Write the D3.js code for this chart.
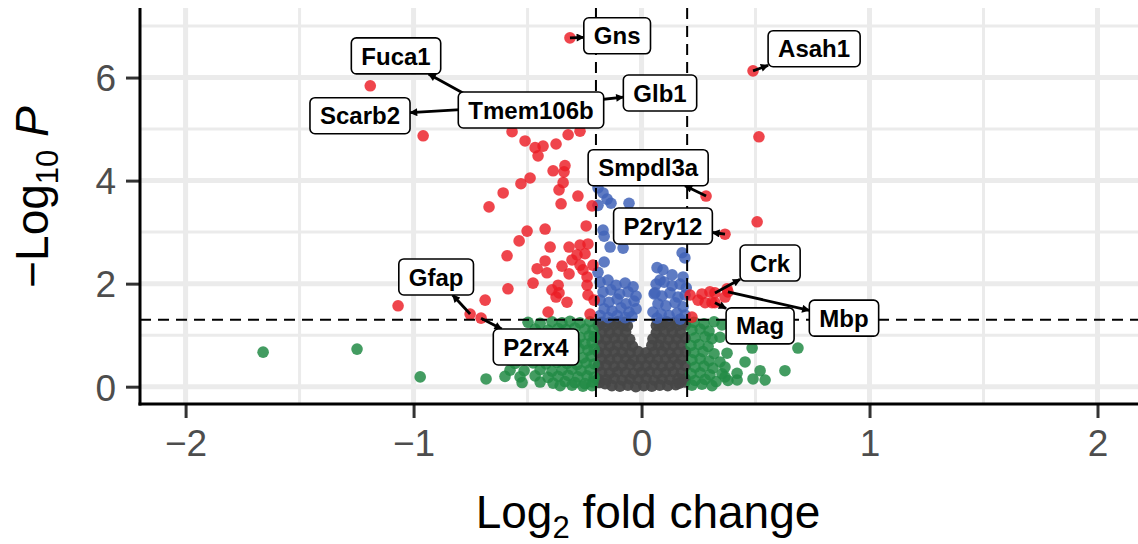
<!DOCTYPE html>
<html><head><meta charset="utf-8">
<script src="https://cdn.jsdelivr.net/npm/d3@7"></script>
<style>
html,body{margin:0;padding:0;background:#fff;}
svg{display:block;font-family:"Liberation Sans",Arial,Helvetica,sans-serif;}
</style></head><body>
<svg id="chart" width="1138" height="544"></svg>
<script>
// ---------------- data ----------------
const xTicks = [-2, -1, 0, 1, 2];
const yTicks = [0, 2, 4, 6];
const xMinor = [-1.5, -0.5, 0.5, 1.5];
const yMinor = [1, 3, 5, 7];
const xDomain = [-2.2, 2.2];
const yDomain = [-0.336, 7.35];
const fcCutoff = 0.2;
const pCutoff = 0.05;

// not significant (grey)
const nsPoints = [
 [-0.13,0.02],[-0.095,0.01],[-0.06,0.03],[-0.025,0.0],[0.01,0.02],[0.045,0.01],[0.08,0.03],[0.115,0.02],[0.15,0.04],
 [-0.185,0.08],[-0.16,0.06],[0.165,0.07],[0.19,0.09],
 [-0.19,0.15],[-0.155,0.14],[-0.12,0.16],[-0.085,0.13],[-0.05,0.15],[-0.015,0.14],[0.02,0.16],[0.055,0.13],[0.09,0.15],[0.125,0.14],[0.16,0.16],[0.192,0.15],
 [-0.175,0.28],[-0.14,0.27],[-0.105,0.29],[-0.07,0.28],[-0.035,0.26],[0.0,0.28],[0.035,0.29],[0.07,0.27],[0.105,0.28],[0.14,0.29],[0.175,0.27],
 [-0.19,0.41],[-0.155,0.42],[-0.12,0.40],[-0.085,0.41],[-0.05,0.43],[-0.015,0.40],[0.02,0.41],[0.055,0.42],[0.09,0.40],[0.125,0.41],[0.16,0.43],[0.193,0.41],
 [-0.175,0.54],[-0.14,0.53],[-0.105,0.55],[-0.07,0.54],[-0.035,0.52],[0.0,0.54],[0.035,0.55],[0.07,0.53],[0.105,0.54],[0.14,0.55],[0.175,0.53],
 [-0.19,0.67],[-0.155,0.66],[-0.12,0.68],[-0.085,0.67],[-0.05,0.66],[-0.015,0.68],[0.02,0.66],[0.055,0.67],[0.09,0.68],[0.125,0.66],[0.16,0.67],[0.193,0.68],
 [-0.175,0.80],[-0.14,0.79],[-0.105,0.81],[-0.07,0.80],[-0.04,0.79],[0.045,0.80],[0.075,0.81],[0.105,0.79],[0.14,0.80],[0.175,0.81],
 [-0.19,0.93],[-0.155,0.92],[-0.12,0.94],[-0.085,0.93],[-0.052,0.92],[0.05,0.93],[0.085,0.94],[0.12,0.92],[0.155,0.93],[0.192,0.94],
 [-0.175,1.06],[-0.14,1.05],[-0.105,1.07],[-0.07,1.06],[0.065,1.05],[0.1,1.07],[0.135,1.06],[0.17,1.05],
 [-0.19,1.19],[-0.155,1.18],[-0.12,1.20],[-0.085,1.19],[-0.062,1.18],[0.065,1.19],[0.09,1.20],[0.125,1.18],[0.16,1.19],[0.193,1.20],
 [-0.175,1.25],[-0.14,1.24],[-0.105,1.26],[-0.075,1.25],[0.075,1.24],[0.11,1.26],[0.145,1.25],[0.18,1.24]
];

// log2 fold change only (green)
const fcPoints = [
 [-0.498,1.25],[-0.445,1.23],[-0.393,1.26],[-0.349,1.24],[-0.314,1.27],[-0.270,1.24],[-0.226,1.26],
 [-0.467,1.12],[-0.410,1.10],[-0.366,1.13],[-0.331,1.11],[-0.292,1.14],[-0.248,1.12],[-0.213,1.10],
 [-0.511,0.98],[-0.436,0.99],[-0.388,0.97],[-0.349,1.00],[-0.309,0.98],[-0.270,0.96],[-0.230,0.99],[-0.208,0.97],
 [-0.489,0.85],[-0.419,0.86],[-0.375,0.84],[-0.331,0.87],[-0.287,0.85],[-0.248,0.83],[-0.217,0.86],
 [-0.533,0.72],[-0.458,0.70],[-0.401,0.73],[-0.357,0.71],[-0.314,0.72],[-0.274,0.74],[-0.235,0.71],[-0.208,0.73],
 [-0.498,0.58],[-0.432,0.59],[-0.379,0.57],[-0.336,0.60],[-0.296,0.58],[-0.257,0.56],[-0.221,0.59],
 [-0.555,0.45],[-0.476,0.46],[-0.419,0.44],[-0.371,0.47],[-0.327,0.45],[-0.283,0.43],[-0.243,0.46],[-0.208,0.44],
 [-0.577,0.32],[-0.515,0.31],[-0.445,0.33],[-0.393,0.30],[-0.349,0.32],[-0.305,0.34],[-0.265,0.31],[-0.226,0.33],
 [-0.599,0.20],[-0.533,0.19],[-0.467,0.21],[-0.410,0.18],[-0.366,0.20],[-0.322,0.22],[-0.279,0.19],[-0.239,0.21],[-0.208,0.18],
 [-0.524,0.08],[-0.445,0.09],[-0.388,0.07],[-0.336,0.10],[-0.292,0.08],[-0.248,0.06],[-0.213,0.09],
 [-0.357,0.02],[-0.305,0.03],[-0.257,0.01],[-0.217,0.02],
 [-1.660,0.67],[-1.248,0.73],[-0.971,0.19],[-0.682,0.15],
 [0.230,1.25],[0.274,1.22],[0.318,1.26],[0.353,1.20],
 [0.221,1.10],[0.257,1.12],[0.296,1.08],
 [0.235,0.95],[0.279,0.97],[0.309,0.93],[0.344,0.96],[0.440,1.00],
 [0.217,0.80],[0.252,0.82],[0.292,0.78],
 [0.230,0.66],[0.270,0.68],[0.318,0.64],[0.375,0.65],[0.485,0.75],[0.686,0.75],
 [0.221,0.52],[0.257,0.54],[0.296,0.50],[0.344,0.48],[0.454,0.48],
 [0.235,0.38],[0.274,0.40],[0.313,0.36],[0.366,0.38],
 [0.217,0.25],[0.257,0.27],[0.300,0.23],[0.353,0.25],[0.419,0.26],[0.520,0.31],[0.629,0.31],
 [0.235,0.12],[0.279,0.14],[0.327,0.10],[0.379,0.12],[0.366,0.19],[0.419,0.13],[0.489,0.15],[0.542,0.13],
 [0.221,0.03],[0.265,0.05],[0.309,0.02]
];

// p-value only (blue)
const pPoints = [
 [-0.191,3.86],[-0.169,3.76],[-0.151,3.64],[-0.134,3.56],[-0.191,3.52],[-0.055,3.56],[-0.169,3.04],[-0.164,2.92],[-0.138,2.71],[-0.081,2.69],[-0.191,2.22],[-0.164,2.42],
 [-0.182,2.03],[-0.147,2.07],[-0.112,1.97],[-0.072,2.01],[-0.037,1.94],
 [-0.169,1.84],[-0.134,1.88],[-0.096,1.80],[-0.059,1.84],[-0.024,1.76],
 [-0.182,1.68],[-0.143,1.64],[-0.107,1.70],[-0.068,1.61],[-0.033,1.66],
 [-0.164,1.51],[-0.129,1.47],[-0.090,1.53],[-0.055,1.45],[-0.024,1.51],
 [-0.182,1.38],[-0.147,1.34],[-0.107,1.38],[-0.072,1.34],[-0.042,1.36],
 [0.178,2.60],[0.190,2.50],[0.068,2.31],[0.094,2.27],[0.134,2.17],[0.182,2.13],[0.081,2.07],[0.059,1.82],
 [0.064,1.99],[0.099,2.03],[0.134,1.96],[0.169,1.99],[0.196,1.92],
 [0.055,1.80],[0.090,1.76],[0.125,1.82],[0.160,1.74],[0.191,1.78],
 [0.072,1.61],[0.107,1.57],[0.147,1.63],[0.182,1.55],
 [0.050,1.45],[0.086,1.41],[0.121,1.38],[0.156,1.43],[0.191,1.39],
 [0.068,1.33],[0.169,1.31]
];

// p-value and log2 fold change (red)
const bothPoints = [
 [-1.190,5.84],[-0.958,4.87],[-1.068,1.57],[-0.686,1.68],[-0.669,3.49],[-0.607,3.76],[-0.590,2.54],[-0.586,1.90],[-0.537,2.83],
 [-0.568,4.95],[-0.511,4.77],[-0.467,4.64],[-0.432,4.67],[-0.454,4.48],[-0.375,4.71],[-0.322,4.89],[-0.270,4.96],
 [-0.388,4.19],[-0.336,4.29],[-0.340,4.17],[-0.489,4.05],[-0.529,3.94],[-0.344,3.96],[-0.362,3.82],[-0.279,3.70],[-0.353,3.55],[-0.217,3.51],
 [-0.502,3.02],[-0.423,3.06],[-0.243,3.12],[-0.401,2.71],[-0.318,2.71],[-0.270,2.75],[-0.235,2.77],[-0.283,2.56],[-0.248,2.58],
 [-0.423,2.44],[-0.349,2.34],[-0.270,2.36],[-0.213,2.36],[-0.458,2.29],[-0.415,2.21],[-0.318,2.19],[-0.239,2.13],[-0.305,2.46],[-0.257,2.27],
 [-0.476,2.01],[-0.366,1.97],[-0.393,1.88],[-0.362,1.82],[-0.375,1.74],[-0.327,1.64],[-0.239,1.97],[-0.235,1.78],[-0.208,1.68],[-0.410,1.45],[-0.226,1.41],
 [0.213,1.78],[0.265,1.80],[0.300,1.84],[0.366,1.74],[0.375,1.90],[0.248,1.68],[0.279,1.63],[0.309,1.63],[0.221,1.35],[0.507,3.20],[0.515,4.85]
];

// labelled genes (also red)
const genes    = ["Gns","Asah1","Fuca1","Scarb2","Tmem106b","Glb1","Smpdl3a","P2ry12","Crk","Mbp","Mag","Gfap","P2rx4"];
const geneFC   = [-0.314, 0.489, -0.730, -0.664, -0.445, -0.226, 0.283, 0.366, 0.322, 0.379, 0.322, -0.752, -0.704];
const geneLogP = [6.77, 6.13, 5.57, 5.41, 5.33, 5.55, 3.70, 2.96, 1.82, 1.84, 1.63, 1.41, 1.33];
// repelled label centres (data units)
const labelFC   = [-0.107, 0.757, -1.077, -1.235, -0.485, 0.081, 0.029, 0.094, 0.564, 0.888, 0.520, -0.901, -0.463];
const labelLogP = [6.81, 6.56, 6.42, 5.26, 5.37, 5.70, 4.25, 3.12, 2.40, 1.33, 1.18, 2.13, 0.77];

// ---------------- drawing ----------------
const svg = d3.select('#chart');
const L = 140, T = 8, B = 404, R = 1138;
const x = d3.scaleLinear().domain(xDomain).range([140, 1143.1]);
const y = d3.scaleLinear().domain(yDomain).range([B, T]);

const grid = svg.append('g').attr('stroke', '#ebebeb');
grid.selectAll('.vmin').data(xMinor).join('line')
  .attr('x1', d => x(d)).attr('x2', d => x(d)).attr('y1', T).attr('y2', B).attr('stroke-width', 3);
grid.selectAll('.hmin').data(yMinor).join('line')
  .attr('y1', d => y(d)).attr('y2', d => y(d)).attr('x1', L).attr('x2', R).attr('stroke-width', 3);
grid.selectAll('.vmaj').data(xTicks).join('line')
  .attr('x1', d => x(d)).attr('x2', d => x(d)).attr('y1', T).attr('y2', B).attr('stroke-width', 5);
grid.selectAll('.hmaj').data(yTicks).join('line')
  .attr('y1', d => y(d)).attr('y2', d => y(d)).attr('x1', L).attr('x2', R).attr('stroke-width', 5);

const R0 = 5.8;
function drawPts(data, fill, op) {
  svg.append('g').selectAll('circle').data(data).join('circle')
    .attr('cx', d => x(d[0])).attr('cy', d => y(d[1])).attr('r', R0)
    .attr('fill', fill).attr('fill-opacity', op);
}
drawPts(nsPoints, '#474747', 0.95);
drawPts(fcPoints, '#228b45', 0.85);
drawPts(pPoints, '#4264b8', 0.85);
drawPts(bothPoints, '#ec1c24', 0.82);
const geneData = genes.map((g, i) => ({g, fc: geneFC[i], p: geneLogP[i], lx: labelFC[i], ly: labelLogP[i]}));
drawPts(geneData.map(d => [d.fc, d.p]), '#ec1c24', 0.82);

// threshold lines
const thr = svg.append('g').attr('stroke', '#000').attr('stroke-width', 2).attr('stroke-dasharray', '11,7');
thr.selectAll('.v').data([-fcCutoff, fcCutoff]).join('line')
  .attr('x1', d => x(d)).attr('x2', d => x(d)).attr('y1', T).attr('y2', B);
thr.append('line').attr('x1', L).attr('x2', R)
  .attr('y1', y(-Math.log10(pCutoff))).attr('y2', y(-Math.log10(pCutoff)));

// labels
const defs = svg.append('defs');
defs.append('marker').attr('id', 'arr').attr('viewBox', '0 0 10 10')
  .attr('refX', 9).attr('refY', 5).attr('markerWidth', 9).attr('markerHeight', 8)
  .attr('markerUnits', 'userSpaceOnUse').attr('orient', 'auto')
  .append('path').attr('d', 'M0,0 L10,5 L0,10 Z').attr('fill', '#000');

const lblG = svg.append('g');
const segG = lblG.append('g');
const boxG = lblG.append('g');
const FS = 24, PADX = 10, BH = 36;
geneData.forEach(d => {
  const t = boxG.append('text').attr('font-size', FS).attr('font-weight', 'bold').text(d.g);
  d.w = t.node().getComputedTextLength() + 2 * PADX;
  t.remove();
});
geneData.forEach(d => {
  const cx = x(d.lx), cy = y(d.ly);
  const px = x(d.fc), py = y(d.p);
  const dx = px - cx, dy = py - cy;
  const hw = d.w / 2, hh = BH / 2;
  const tt = Math.min(dx !== 0 ? hw / Math.abs(dx) : Infinity, dy !== 0 ? hh / Math.abs(dy) : Infinity);
  if (tt < 1) {
    const bx = cx + dx * tt, by = cy + dy * tt;
    segG.append('line').attr('x1', px).attr('y1', py).attr('x2', bx).attr('y2', by)
      .attr('stroke', '#000').attr('stroke-width', 2.8).attr('marker-end', 'url(#arr)');
  }
});
geneData.forEach(d => {
  const cx = x(d.lx), cy = y(d.ly);
  boxG.append('rect').attr('x', cx - d.w / 2).attr('y', cy - BH / 2).attr('width', d.w).attr('height', BH)
    .attr('rx', 5).attr('fill', '#fff').attr('stroke', '#000').attr('stroke-width', 1.6);
  boxG.append('text').attr('x', cx).attr('y', cy + 8.6).attr('text-anchor', 'middle')
    .attr('font-size', FS).attr('font-weight', 'bold').attr('fill', '#000').text(d.g);
});

// axes
const fmt = d3.format('d');
const ax = svg.append('g').attr('transform', `translate(0,${B})`)
  .call(d3.axisBottom(x).tickValues(xTicks).tickFormat(fmt).tickSize(14).tickSizeOuter(0).tickPadding(12));
const ay = svg.append('g').attr('transform', `translate(${L},0)`)
  .call(d3.axisLeft(y).tickValues(yTicks).tickFormat(fmt).tickSize(14).tickSizeOuter(0).tickPadding(10));
[ax, ay].forEach(a => {
  a.select('.domain').remove();
  a.selectAll('.tick line').attr('stroke', '#333').attr('stroke-width', 3);
  a.selectAll('.tick text').attr('fill', '#4d4d4d').attr('font-size', 37)
    .attr('font-family', '"Liberation Sans",Arial,Helvetica,sans-serif');
});
ay.selectAll('.tick text').attr('dy', '0.36em');
svg.append('line').attr('x1', L).attr('x2', L).attr('y1', T).attr('y2', B + 1.5)
  .attr('stroke', '#000').attr('stroke-width', 3);
svg.append('line').attr('x1', L - 1.5).attr('x2', R).attr('y1', B).attr('y2', B)
  .attr('stroke', '#000').attr('stroke-width', 3);

// axis titles
const xt = svg.append('text').attr('x', 648).attr('y', 528).attr('text-anchor', 'middle')
  .attr('font-size', 46).attr('fill', '#000');
xt.append('tspan').text('Log');
xt.append('tspan').attr('font-size', 31).attr('dy', 10).text('2');
xt.append('tspan').attr('dy', -10).text(' fold change');

const yt = svg.append('text').attr('transform', 'translate(48,197) rotate(-90)').attr('text-anchor', 'middle')
  .attr('font-size', 46).attr('fill', '#000');
yt.append('tspan').text('\u2212Log');
yt.append('tspan').attr('font-size', 31).attr('dy', 10).text('10');
yt.append('tspan').attr('dy', -10).text(' ');
yt.append('tspan').attr('font-style', 'italic').text('P');
</script></body></html>
